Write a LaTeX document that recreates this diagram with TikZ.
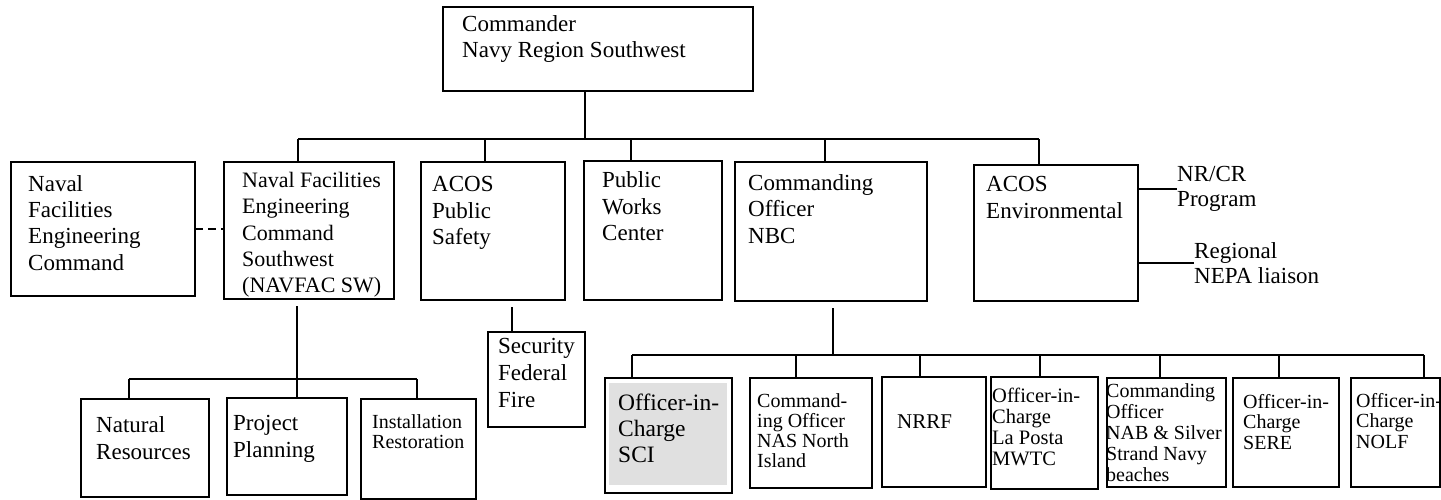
\documentclass[tikz,border=0pt]{standalone}
\usepackage{fontspec}
\setmainfont{Liberation Serif}
\usetikzlibrary{calc}
\newcommand{\ml}[1]{\begin{tabular}[t]{@{}l@{}}#1\end{tabular}}
\tikzset{
  obox/.style={draw, line width=1.8pt, inner sep=0pt, outer sep=0pt, anchor=north west},
  conn/.style={line width=1.8pt},
  tA/.style={anchor=base west, inner sep=0pt, font=\fontsize{23}{26.5}\selectfont},
  tS/.style={anchor=base west, inner sep=0pt, font=\fontsize{20}{20.5}\selectfont},
}
\newcommand{\bx}[5]{\node[obox, minimum width=#4pt, minimum height=#5pt] (#1) at (#2,#3) {};}
\begin{document}
\begin{tikzpicture}[x=1pt,y=-1pt]
\useasboundingbox (0,0) rectangle (1441,500);
% boxes
\bx{cmd}{443}{7}{310}{84}
\bx{nfec}{11}{162}{184}{134}
\bx{nf}{224}{162}{170}{137}
\bx{acos}{421}{162}{144}{138}
\bx{pwc}{584}{161}{138}{139}
\bx{nbc}{735}{162}{192}{139}
\bx{env}{974}{165}{164}{136}
\bx{nat}{81}{399}{128}{98}
\bx{proj}{227}{398}{120}{97}
\bx{inst}{361}{399}{115}{100}
\bx{sec}{488}{332}{97}{95}
\node[anchor=north west, fill={rgb,255:red,224;green,224;blue,224}, minimum width=118pt, minimum height=102pt, inner sep=0pt] (scifill) at (609,383) {};
\bx{sci}{605}{378}{127}{115}
\bx{nas}{750}{378}{122}{110}
\bx{nrrf}{882}{377}{104}{110}
\bx{lap}{991}{377}{107}{112}
\bx{nab}{1107}{378}{119}{109}
\bx{sere}{1233}{378}{106}{109}
\bx{nolf}{1351}{378}{89}{109}
% texts
\node[tA] (cmdt) at (462,31.5) {\ml{Commander\\Navy Region Southwest}};
\node[tA] (nfect) at (28,191) {\ml{Naval\\Facilities\\Engineering\\Command}};
\node[tA, font=\fontsize{22}{26.5}\selectfont] (nft) at (242,187) {\ml{Naval Facilities\\Engineering\\Command\\Southwest\\(NAVFAC SW)}};
\node[tA] (acost) at (432,192) {\ml{ACOS\\Public\\Safety}};
\node[tA] (pwct) at (602,188) {\ml{Public\\Works\\Center}};
\node[tA] (nbct) at (748,190) {\ml{Commanding\\Officer\\NBC}};
\node[tA] (envt) at (986,192) {\ml{ACOS\\Environmental}};
\node[tA, font=\fontsize{23}{24.5}\selectfont] (nrcr) at (1177,182) {\ml{NR/CR\\Program}};
\node[tA, font=\fontsize{23}{25}\selectfont] (nepa) at (1194,258) {\ml{Regional\\NEPA liaison}};
\node[tA, font=\fontsize{23}{27}\selectfont] (natt) at (96,432) {\ml{Natural\\Resources}};
\node[tA, font=\fontsize{23}{27}\selectfont] (projt) at (233,430) {\ml{Project\\Planning}};
\node[tS, font=\fontsize{20}{20}\selectfont] (instt) at (372,428) {\ml{Installation\\Restoration}};
\node[tA, font=\fontsize{23}{27}\selectfont] (sect) at (498,353) {\ml{Security\\Federal\\Fire}};
\node[tA, font=\fontsize{23.5}{26}\selectfont] (scit) at (618,410) {\ml{Officer-in-\\Charge\\SCI}};
\node[tS, font=\fontsize{20}{20}\selectfont] (nast) at (757,407) {\ml{Command-\\ing Officer\\NAS North\\Island}};
\node[tS, font=\fontsize{21}{21}\selectfont] (nrrft) at (897,428) {NRRF};
\node[tS, font=\fontsize{20.5}{21}\selectfont] (lapt) at (992,402) {\ml{Officer-in-\\Charge\\La Posta\\MWTC}};
\node[tS, font=\fontsize{20}{21}\selectfont] (nabt) at (1106,397) {\ml{Commanding\\Officer\\NAB \& Silver\\Strand Navy\\beaches}};
\node[tS] (seret) at (1243,408) {\ml{Officer-in-\\Charge\\SERE}};
\node[tS] (nolft) at (1356,407) {\ml{Officer-in-\\Charge\\NOLF}};
% top bus
\coordinate (j0) at (585,139);
\coordinate (b1) at (298,139);
\coordinate (b2) at (485,139);
\coordinate (b3) at (631,139);
\coordinate (b4) at (825,139);
\coordinate (b5) at (1039,139);
\draw[conn] (j0 |- cmd.south) -- (j0);
\draw[conn] (b1) -- (b5);
\draw[conn] (b1) -- (b1 |- nf.north);
\draw[conn] (b2) -- (b2 |- acos.north);
\draw[conn] (b3) -- (b3 |- pwc.north);
\draw[conn] (b4) -- (b4 |- nbc.north);
\draw[conn] (b5) -- (b5 |- env.north);
% side lines
\draw[conn, dash pattern=on 8pt off 5pt] (nfec.east) -- (nf.west |- nfec.east);
\draw[conn] (env.east |- nrcr.west) -- (nrcr.west);
\draw[conn] (env.east |- 0,263) -- (nepa.west |- 0,263);
% navfac subtree
\coordinate (v1) at (297,306);
\coordinate (c1) at (129,379);
\coordinate (c3) at (417,379);
\draw[conn] (v1) -- (v1 |- proj.north);
\draw[conn] (c1) -- (c3);
\draw[conn] (c1) -- (c1 |- nat.north);
\draw[conn] (c3) -- (c3 |- inst.north);
% security
\coordinate (s0) at (512,307);
\draw[conn] (s0) -- (s0 |- sec.north);
% nbc subtree
\coordinate (n0) at (833,308);
\coordinate (d0) at (833,355);
\coordinate (d1) at (632,355);
\coordinate (d2) at (796,355);
\coordinate (d3) at (920,355);
\coordinate (d4) at (1040,355);
\coordinate (d5) at (1160,355);
\coordinate (d6) at (1279,355);
\coordinate (d7) at (1424,355);
\draw[conn] (n0) -- (d0);
\draw[conn] (d1) -- (d7);
\draw[conn] (d1) -- (d1 |- sci.north);
\draw[conn] (d2) -- (d2 |- nas.north);
\draw[conn] (d3) -- (d3 |- nrrf.north);
\draw[conn] (d4) -- (d4 |- lap.north);
\draw[conn] (d5) -- (d5 |- nab.north);
\draw[conn] (d6) -- (d6 |- sere.north);
\draw[conn] (d7) -- (d7 |- nolf.north);
\end{tikzpicture}
\end{document}
